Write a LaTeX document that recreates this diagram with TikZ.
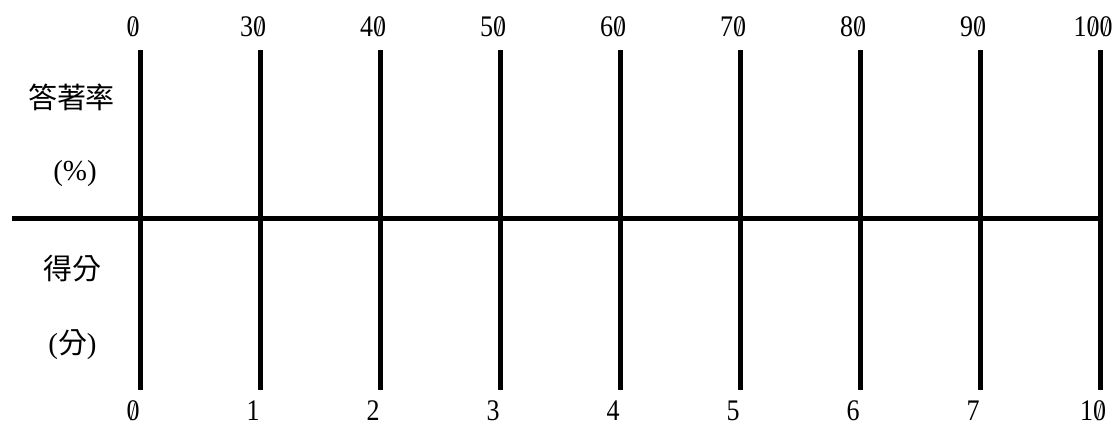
\documentclass[tikz,border=0pt]{standalone}
\usepackage{fontspec}
\usepackage{graphicx}
\setmainfont{Liberation Serif}
\newfontfamily\cjk{Noto Sans CJK TC}
\newfontfamily\digits[FakeStretch=0.87]{Liberation Serif}
\usetikzlibrary{positioning}
\newcommand{\zslash}{\ooalign{0\cr\hidewidth\raisebox{0.02em}{\scalebox{0.7}[0.85]{/}}\hidewidth\cr}}

\begin{document}
\begin{tikzpicture}[
  bar/.style={line width=0.1cm},
  num/.style={font=\digits\fontsize{17}{20}\selectfont, inner sep=0pt},
  side/.style={font=\fontsize{16.5}{20}\selectfont, inner sep=0pt}
]
\useasboundingbox (0,0) rectangle (22.34,8.54);

% ================= main axis =================
\coordinate (axL) at (0.24,4.16);
\coordinate (axR) at (22.05,4.16);
\draw[bar] (axL) -- (axR);

% ================= ticks: rate on top, score below =================
\foreach \t/\b [count=\i from 0] in {\zslash/\zslash, 3\zslash/1, 4\zslash/2,
    5\zslash/3, 6\zslash/4, 7\zslash/5, 8\zslash/6, 9\zslash/7, 1\zslash\zslash/1\zslash} {
  \coordinate (u\i) at (2.8+2.4*\i, 7.54);
  \coordinate (d\i) at (2.8+2.4*\i, 0.74);
  \draw[bar] (u\i) -- (d\i);
  \node[num] (top\i) at (2.66+2.4*\i, 8.0) {\t};
  \node[num] (bot\i) at (2.66+2.4*\i, 0.32) {\b};
}

% ================= side labels =================
\node[side] (rate)  at (1.43, 6.6)  {\cjk 答著率};
\node[side] (rateU) at (1.5, 5.06) {(\%)};
\node[side] (score) at (1.45, 3.16) {\cjk 得分};
\node[side] (scoreU) at (1.45, 1.64) {({\cjk 分})};

\end{tikzpicture}
\end{document}
